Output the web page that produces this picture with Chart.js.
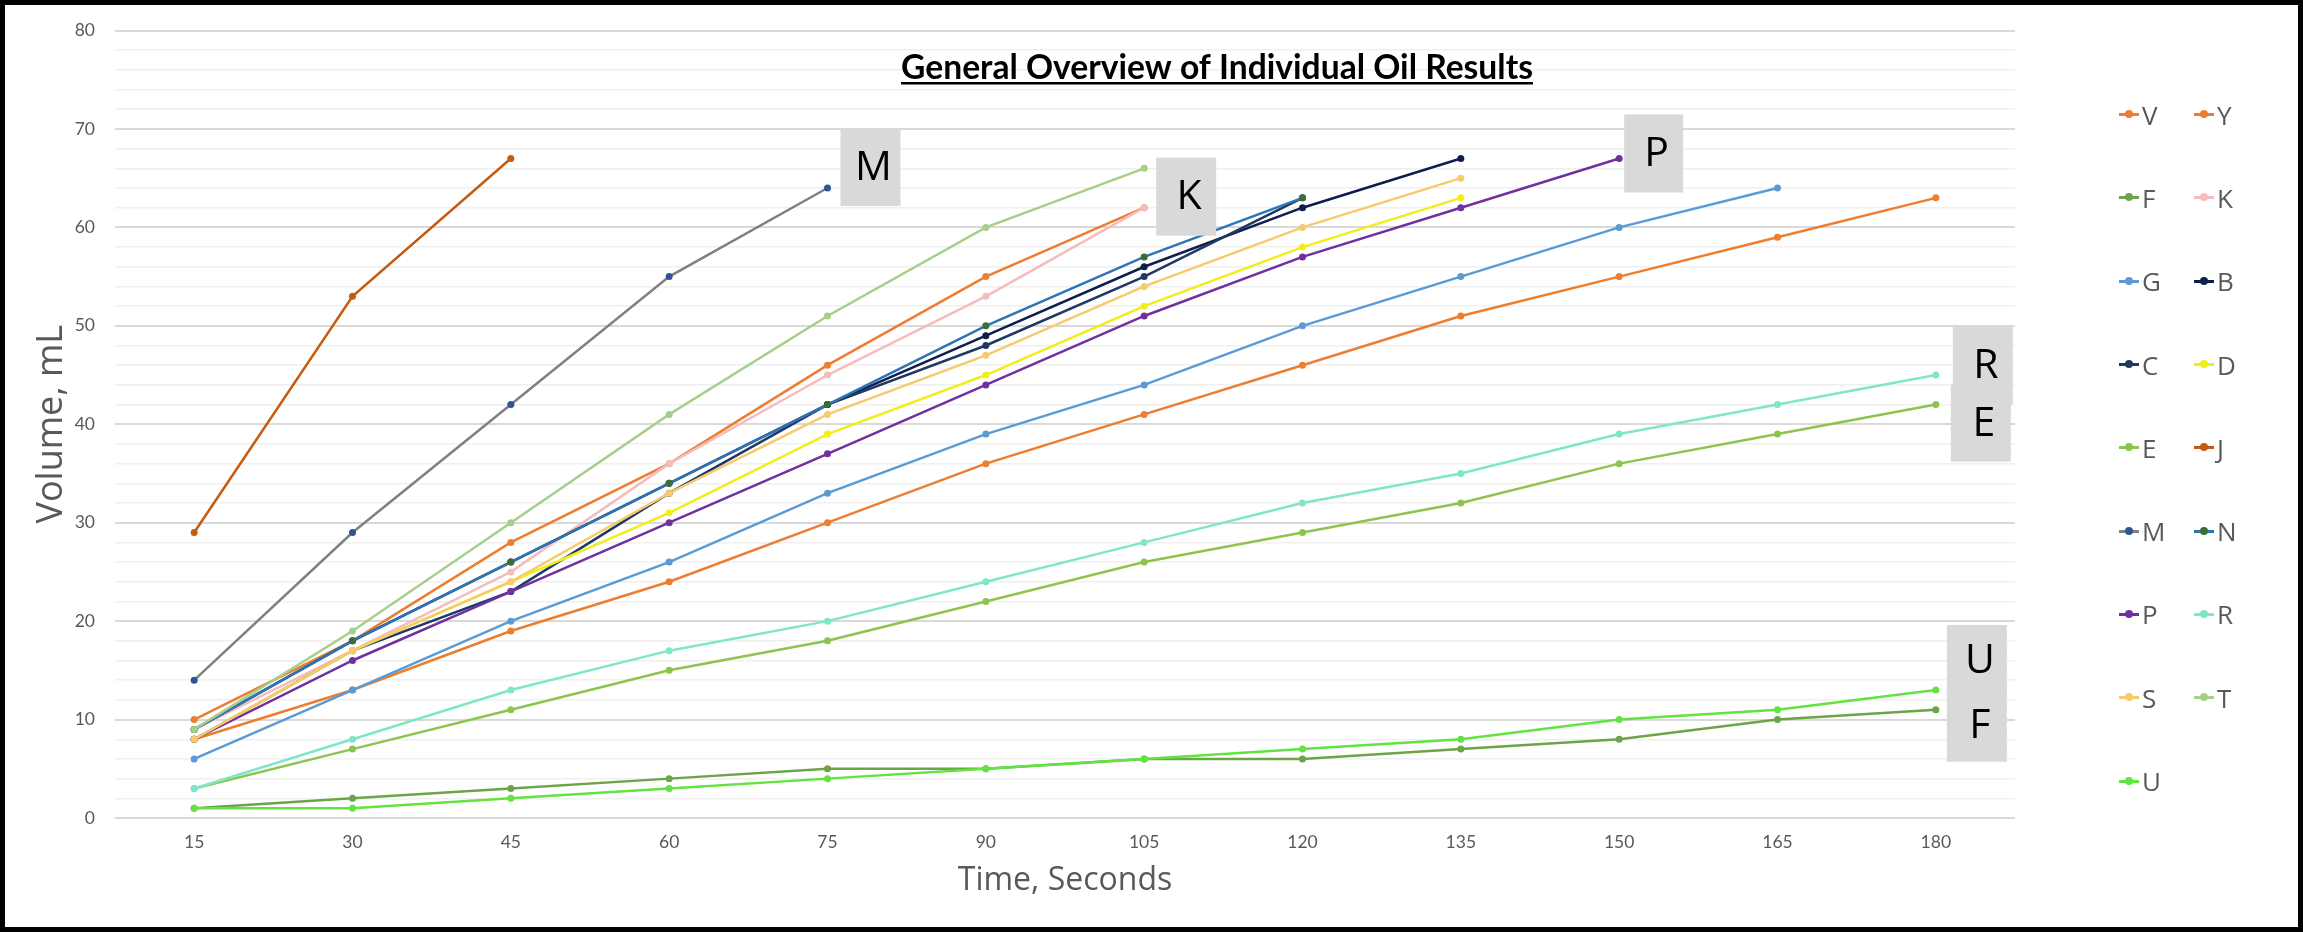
<!DOCTYPE html>
<html>
<head>
<meta charset="utf-8">
<title>General Overview of Individual Oil Results</title>
<script src="https://cdn.jsdelivr.net/npm/chart.js@4.4.1/dist/chart.umd.min.js"></script>
<style>
    html, body { margin: 0; padding: 0; background: #fff; }
    #wrap { position: relative; width: 2303px; height: 932px; overflow: hidden; }
    #frame { position: absolute; inset: 0; border: 5px solid #000; box-sizing: border-box; pointer-events: none; }
    #legend {
        position: absolute; left: 2119px; top: 73px;
        display: grid; grid-template-columns: 75px 75px; grid-auto-rows: 83.3px;
        font-family: 'Open Sans', sans-serif; font-size: 26px; color: #595959;
    }
    .item { display: flex; align-items: center; }
    .swatch { position: relative; width: 20px; height: 3px; margin-right: 3px; }
    .swatch i { position: absolute; left: 6px; top: -3px; width: 8px; height: 8px; border-radius: 50%; }
</style>
</head>
<body>
<div id="wrap">
    <canvas id="oilChart"></canvas>
    <div id="legend"></div>
    <div id="frame"></div>
</div>
<script>
// Time axis (seconds)
const timeLabels = ['15', '30', '45', '60', '75', '90', '105', '120', '135', '150', '165', '180'];

// Volume in mL for each oil
const vValues = [10, 18, 28, 36, 46, 55, 62];
const yValues = [8, 13, 19, 24, 30, 36, 41, 46, 51, 55, 59, 63];
const fValues = [1, 2, 3, 4, 5, 5, 6, 6, 7, 8, 10, 11];
const kValues = [9, 17, 25, 36, 45, 53, 62];
const gValues = [6, 13, 20, 26, 33, 39, 44, 50, 55, 60, 64];
const bValues = [9, 18, 26, 34, 42, 49, 56, 62, 67];
const cValues = [8, 17, 23, 33, 42, 48, 55, 63];
const dValues = [8, 17, 24, 31, 39, 45, 52, 58, 63];
const eValues = [3, 7, 11, 15, 18, 22, 26, 29, 32, 36, 39, 42];
const jValues = [29, 53, 67];
const mValues = [14, 29, 42, 55, 64];
const nValues = [9, 18, 26, 34, 42, 50, 57, 63];
const pValues = [8, 16, 23, 30, 37, 44, 51, 57, 62, 67];
const rValues = [3, 8, 13, 17, 20, 24, 28, 32, 35, 39, 42, 45];
const sValues = [8, 17, 24, 33, 41, 47, 54, 60, 65];
const tValues = [9, 19, 30, 41, 51, 60, 66];
const uValues = [1, 1, 2, 3, 4, 5, 6, 7, 8, 10, 11, 13];

const seriesNames = ['V', 'Y', 'F', 'K', 'G', 'B', 'C', 'D', 'E', 'J', 'M', 'N', 'P', 'R', 'S', 'T', 'U'];
const seriesValues = [vValues, yValues, fValues, kValues, gValues, bValues, cValues, dValues,
    eValues, jValues, mValues, nValues, pValues, rValues, sValues, tValues, uValues];

const chartTitle = 'General Overview of Individual Oil Results';

// styling
const lineColors = ['#ED7D31', '#ED7D31', '#6BA547', '#F4BCBC', '#5B9BD5', '#0E1F4D', '#1F3864', '#F2EE1A',
    '#8DC44E', '#C55A11', '#808080', '#2E75B6', '#7030A0', '#7FE7C7', '#F6CB6E', '#A6CF8A', '#62E341'];
const markerColors = ['#ED7D31', '#ED7D31', '#6BA547', '#F4BCBC', '#5B9BD5', '#0E1F4D', '#1F3864', '#F2EE1A',
    '#8DC44E', '#C55A11', '#2F5597', '#3B6E36', '#7030A0', '#7FE7C7', '#F6CB6E', '#A6CF8A', '#62E341'];

// grey label boxes, placed relative to each series' last point
const boxNotes = [
    { name: 'M', dx: 13, dy: -60, w: 60, h: 78 },
    { name: 'K', dx: 12, dy: -50, w: 60, h: 78 },
    { name: 'P', dx: 5, dy: -44, w: 59, h: 78 },
    { name: 'R', dx: 17, dy: -48, w: 60, h: 77 },
    { name: 'E', dx: 15, dy: -20, w: 60, h: 77 },
    { name: 'U', dx: 11, dy: -65, w: 60, h: 70 },
    { name: 'F', dx: 11, dy: -20, w: 60, h: 72 }
];

const tickColor = '#595959';

const titlePlugin = {
    id: 'insideTitle',
    afterDraw(chart) {
        const ctx = chart.ctx;
        ctx.save();
        // size the bold title so it spans the same width as the original
        let size = 32;
        ctx.font = `bold ${size}px Lato`;
        size = size * 632 / ctx.measureText(chartTitle).width;
        ctx.font = `bold ${size}px Lato`;
        ctx.fillStyle = '#000';
        ctx.textAlign = 'center';
        ctx.textBaseline = 'alphabetic';
        const x = 1217, y = 79;
        ctx.fillText(chartTitle, x, y);
        const w = ctx.measureText(chartTitle).width;
        ctx.fillRect(x - w / 2, y + 3, w, 2.5);
        ctx.restore();
    }
};

const boxPlugin = {
    id: 'labelBoxes',
    afterDatasetsDraw(chart) {
        const ctx = chart.ctx;
        ctx.save();
        boxNotes.forEach(note => {
            const idx = seriesNames.indexOf(note.name);
            const pts = chart.getDatasetMeta(idx).data;
            const last = pts[pts.length - 1];
            const left = last.x + note.dx;
            const top = last.y + note.dy;
            ctx.fillStyle = '#D9D9D9';
            ctx.fillRect(left, top, note.w, note.h);
            ctx.fillStyle = '#000';
            ctx.font = '41px "Open Sans"';
            ctx.textAlign = 'center';
            ctx.textBaseline = 'middle';
            ctx.fillText(note.name, left + note.w / 2 + 3, top + note.h / 2 + 1);
        });
        ctx.restore();
    }
};

document.addEventListener('DOMContentLoaded', () => {
    const ctx = document.getElementById('oilChart');

    const datasets = seriesNames.map((name, i) => ({
        label: name,
        data: seriesValues[i],
        borderColor: lineColors[i],
        backgroundColor: markerColors[i],
        pointBackgroundColor: markerColors[i],
        pointBorderColor: markerColors[i],
        borderWidth: 2.5,
        pointRadius: 3.5,
        pointBorderWidth: 0,
        tension: 0,
        order: seriesNames.length - i
    }));

    new Chart(ctx, {
        type: 'line',
        data: { labels: timeLabels, datasets: datasets },
        options: {
            responsive: true,
            maintainAspectRatio: false,
            animation: false,
            layout: { padding: { left: 30, right: 288, top: 17, bottom: 32 } },
            plugins: {
                legend: { display: false },
                tooltip: { enabled: false }
            },
            scales: {
                x: {
                    offset: true,
                    grid: { display: false, drawTicks: false },
                    border: { display: false },
                    ticks: { color: tickColor, font: { family: 'Lato', size: 17.5 }, padding: 14 },
                    title: {
                        display: true, text: 'Time, Seconds', color: tickColor,
                        font: { family: 'Open Sans', size: 32 }, padding: 0
                    },
                    afterFit: s => { s.height = 82; }
                },
                y: {
                    min: 0,
                    max: 80,
                    ticks: {
                        stepSize: 2, autoSkip: false, padding: 20, color: tickColor,
                        font: { family: 'Lato', size: 17.5 },
                        callback: v => (v % 10 === 0 ? v : '')
                    },
                    grid: {
                        drawTicks: false,
                        color: c => (c.tick.value % 10 === 0 ? '#D9D9D9' : '#F0F0F0'),
                        lineWidth: c => (c.tick.value % 10 === 0 ? 2 : 1.5)
                    },
                    border: { display: false },
                    title: {
                        display: true, text: 'Volume, mL', color: tickColor,
                        font: { family: 'Open Sans', size: 36 }, padding: 0
                    },
                    afterFit: s => { s.width = 85; }
                }
            }
        },
        plugins: [titlePlugin, boxPlugin]
    });

    // legend laid out row by row like the original
    const legend = document.getElementById('legend');
    legend.innerHTML = seriesNames.map((name, i) => `
        <div class="item">
            <span class="swatch" style="background:${lineColors[i]}"><i style="background:${markerColors[i]}"></i></span>
            <span>${name}</span>
        </div>`).join('');
});
</script>
</body>
</html>
